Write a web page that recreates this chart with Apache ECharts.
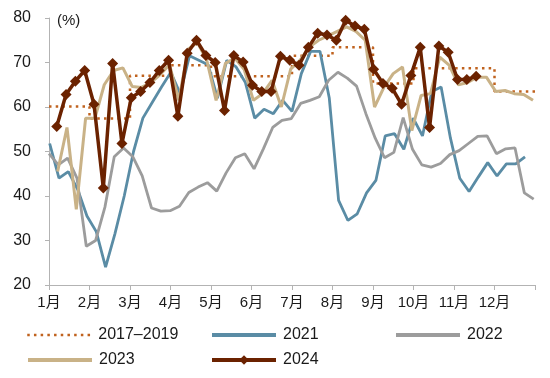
<!DOCTYPE html>
<html>
<head>
<meta charset="utf-8">
<script src="https://cdn.jsdelivr.net/npm/echarts@6/dist/echarts.min.js"></script>
<style>html,body{margin:0;padding:0;background:#fff}#c{width:550px;height:378px}</style>
</head>
<body>
<div id="c"></div>
<script>
// Month tick labels
const monthLabels = ['1月','2月','3月','4月','5月','6月','7月','8月','9月','10月','11月','12月'];
// 2017–2019 monthly average (step line)
const avg2017_2019 = [60.1, 57.4, 67.0, 69.4, 66.9, 66.9, 71.5, 73.4, 65.3, 68.7, 68.7, 63.5];
// Weekly values
const y2021 = [51.8, 44, 45.5, 41.5, 35.5, 32, 24, 31.5, 40, 50, 57.5, 61, 64.5, 67.8, 63, 71.5, 70.5, 69.5, 62, 70.5, 69, 65.5, 57.5, 59.5, 58.5, 61.5, 59, 67.5, 72.5, 72.5, 62, 39, 34.5, 36, 40.7, 43.5, 53.5, 54, 50.5, 57.5, 53.5, 63.5, 64.5, 53, 44, 41, 44.3, 47.5, 44.5, 47.2, 47.2, 48.8];
const y2022 = [49.5, 47, 48.5, 44, 28.7, 30, 37.5, 48.8, 50.8, 48.8, 44.5, 37.3, 36.6, 36.7, 37.7, 40.8, 42, 43, 41.1, 45.2, 48.6, 49.5, 46.1, 50.6, 55.4, 57, 57.4, 60.8, 61.5, 62.3, 66, 67.8, 66.5, 64.7, 58.5, 53, 48.6, 49.8, 57.6, 50.5, 47, 46.5, 47.3, 49.3, 50.2, 51.8, 53.4, 53.5, 49.5, 50.6, 50.8, 40.7, 39.3];
const y2023 = [45.5, 55.4, 37, 57.5, 57.5, 65, 68.2, 68.8, 64.6, 64.4, 65.5, 67.3, 69.5, 61.5, 73, 74.5, 70.5, 61.5, 69.8, 71, 68.5, 61.5, 63, 66, 60, 68.5, 70.5, 73.5, 75, 76, 77, 78, 77, 75, 60, 64.4, 67.5, 69, 54.7, 62.6, 63, 71.2, 69.4, 65, 65.5, 66.7, 66.7, 63.5, 63.7, 63, 62.8, 61.5];
const y2024 = [55.6, 62.8, 65.8, 68.2, 60.6, 41.8, 69.8, 51.8, 62.1, 63.5, 65.5, 68.2, 70.5, 57.9, 72.1, 75, 71.6, 70, 59.2, 71.6, 70.1, 64.9, 63.5, 63.5, 71.4, 70.5, 69.4, 73.4, 76.6, 76.2, 75, 79.5, 78.2, 77.5, 68.5, 65.3, 64.2, 60.6, 67.1, 73.4, 55.4, 73.7, 72.3, 66.2, 66.2, 66.9];
// first-week day of year for each weekly series
const startDay = {y2021: 0.5, y2022: 0, y2023: 6.5, y2024: 5.8};

const dayToMonth = d => d * 12 / 365;
const weekly = (arr, s) => arr.map((v, i) => [dayToMonth(s + 7 * i), v]);
const stepData = avg2017_2019.map((v, i) => [i, v]).concat([[12, avg2017_2019[11]]]);

const FONT = '"Liberation Sans", Arial, "Noto Sans CJK SC", sans-serif';
const axisColor = '#b3b3b3';

const names = ['2017–2019', '2021', '2022', '2023', '2024'];
const legendPos = [[26, 327], [210, 327], [394, 327], [26, 352], [210, 352]];

const chart = echarts.init(document.getElementById('c'), null, {renderer: 'canvas'});
chart.setOption({
  animation: false,
  backgroundColor: '#fff',
  textStyle: {fontFamily: FONT},
  grid: {left: 49, right: 15, top: 18, bottom: 93, containLabel: false},
  legend: names.map((n, k) => ({
    data: [n], left: legendPos[k][0], top: legendPos[k][1], padding: 0,
    itemWidth: 64, itemHeight: 12, itemGap: 0,
    itemStyle: n === '2024' ? {} : {opacity: 0, borderWidth: 0},
    lineStyle: {width: n === '2017–2019' ? 2.5 : 4},
    textStyle: {fontFamily: FONT, fontSize: 16, color: '#1a1a1a', padding: [0, 0, 0, 2]}
  })),
  graphic: [{type: 'text', left: 57, top: 13, style: {text: '(%)', font: '15px ' + FONT, fill: '#1a1a1a'}}],
  xAxis: {
    type: 'value', min: 0, max: 12, interval: 1,
    axisLine: {show: true, lineStyle: {color: axisColor, width: 1}},
    axisTick: {show: true, length: 5, lineStyle: {color: axisColor}},
    splitLine: {show: false},
    axisLabel: {
      margin: 10, fontSize: 15, color: '#1a1a1a', fontFamily: FONT,
      formatter: v => (v < 12 ? monthLabels[Math.round(v)] : '')
    }
  },
  yAxis: {
    type: 'value', min: 20, max: 80, interval: 10,
    axisLine: {show: true, lineStyle: {color: axisColor, width: 1}},
    axisTick: {show: true, length: 4, lineStyle: {color: axisColor}},
    splitLine: {show: false},
    axisLabel: {margin: 18, fontSize: 16, color: '#1a1a1a', fontFamily: FONT}
  },
  series: [
    {name: '2017–2019', type: 'line', step: 'end', data: stepData, symbol: 'none',
     lineStyle: {color: '#c0621e', width: 2.5, type: [2.5, 4.2]}, itemStyle: {color: '#c0621e'}, z: 1},
    {name: '2021', type: 'line', data: weekly(y2021, startDay.y2021), symbol: 'none',
     lineStyle: {color: '#5a8ca5', width: 2.8}, itemStyle: {color: '#5a8ca5'}, z: 2},
    {name: '2022', type: 'line', data: weekly(y2022, startDay.y2022), symbol: 'none',
     lineStyle: {color: '#9c9c9c', width: 2.8}, itemStyle: {color: '#9c9c9c'}, z: 2},
    {name: '2023', type: 'line', data: weekly(y2023, startDay.y2023), symbol: 'none',
     lineStyle: {color: '#c9b287', width: 3}, itemStyle: {color: '#c9b287'}, z: 3},
    {name: '2024', type: 'line', data: weekly(y2024, startDay.y2024), symbol: 'diamond', symbolSize: 11, showSymbol: true,
     lineStyle: {color: '#6b2200', width: 3.5}, itemStyle: {color: '#6b2200'}, z: 4}
  ]
});
</script>
</body>
</html>
